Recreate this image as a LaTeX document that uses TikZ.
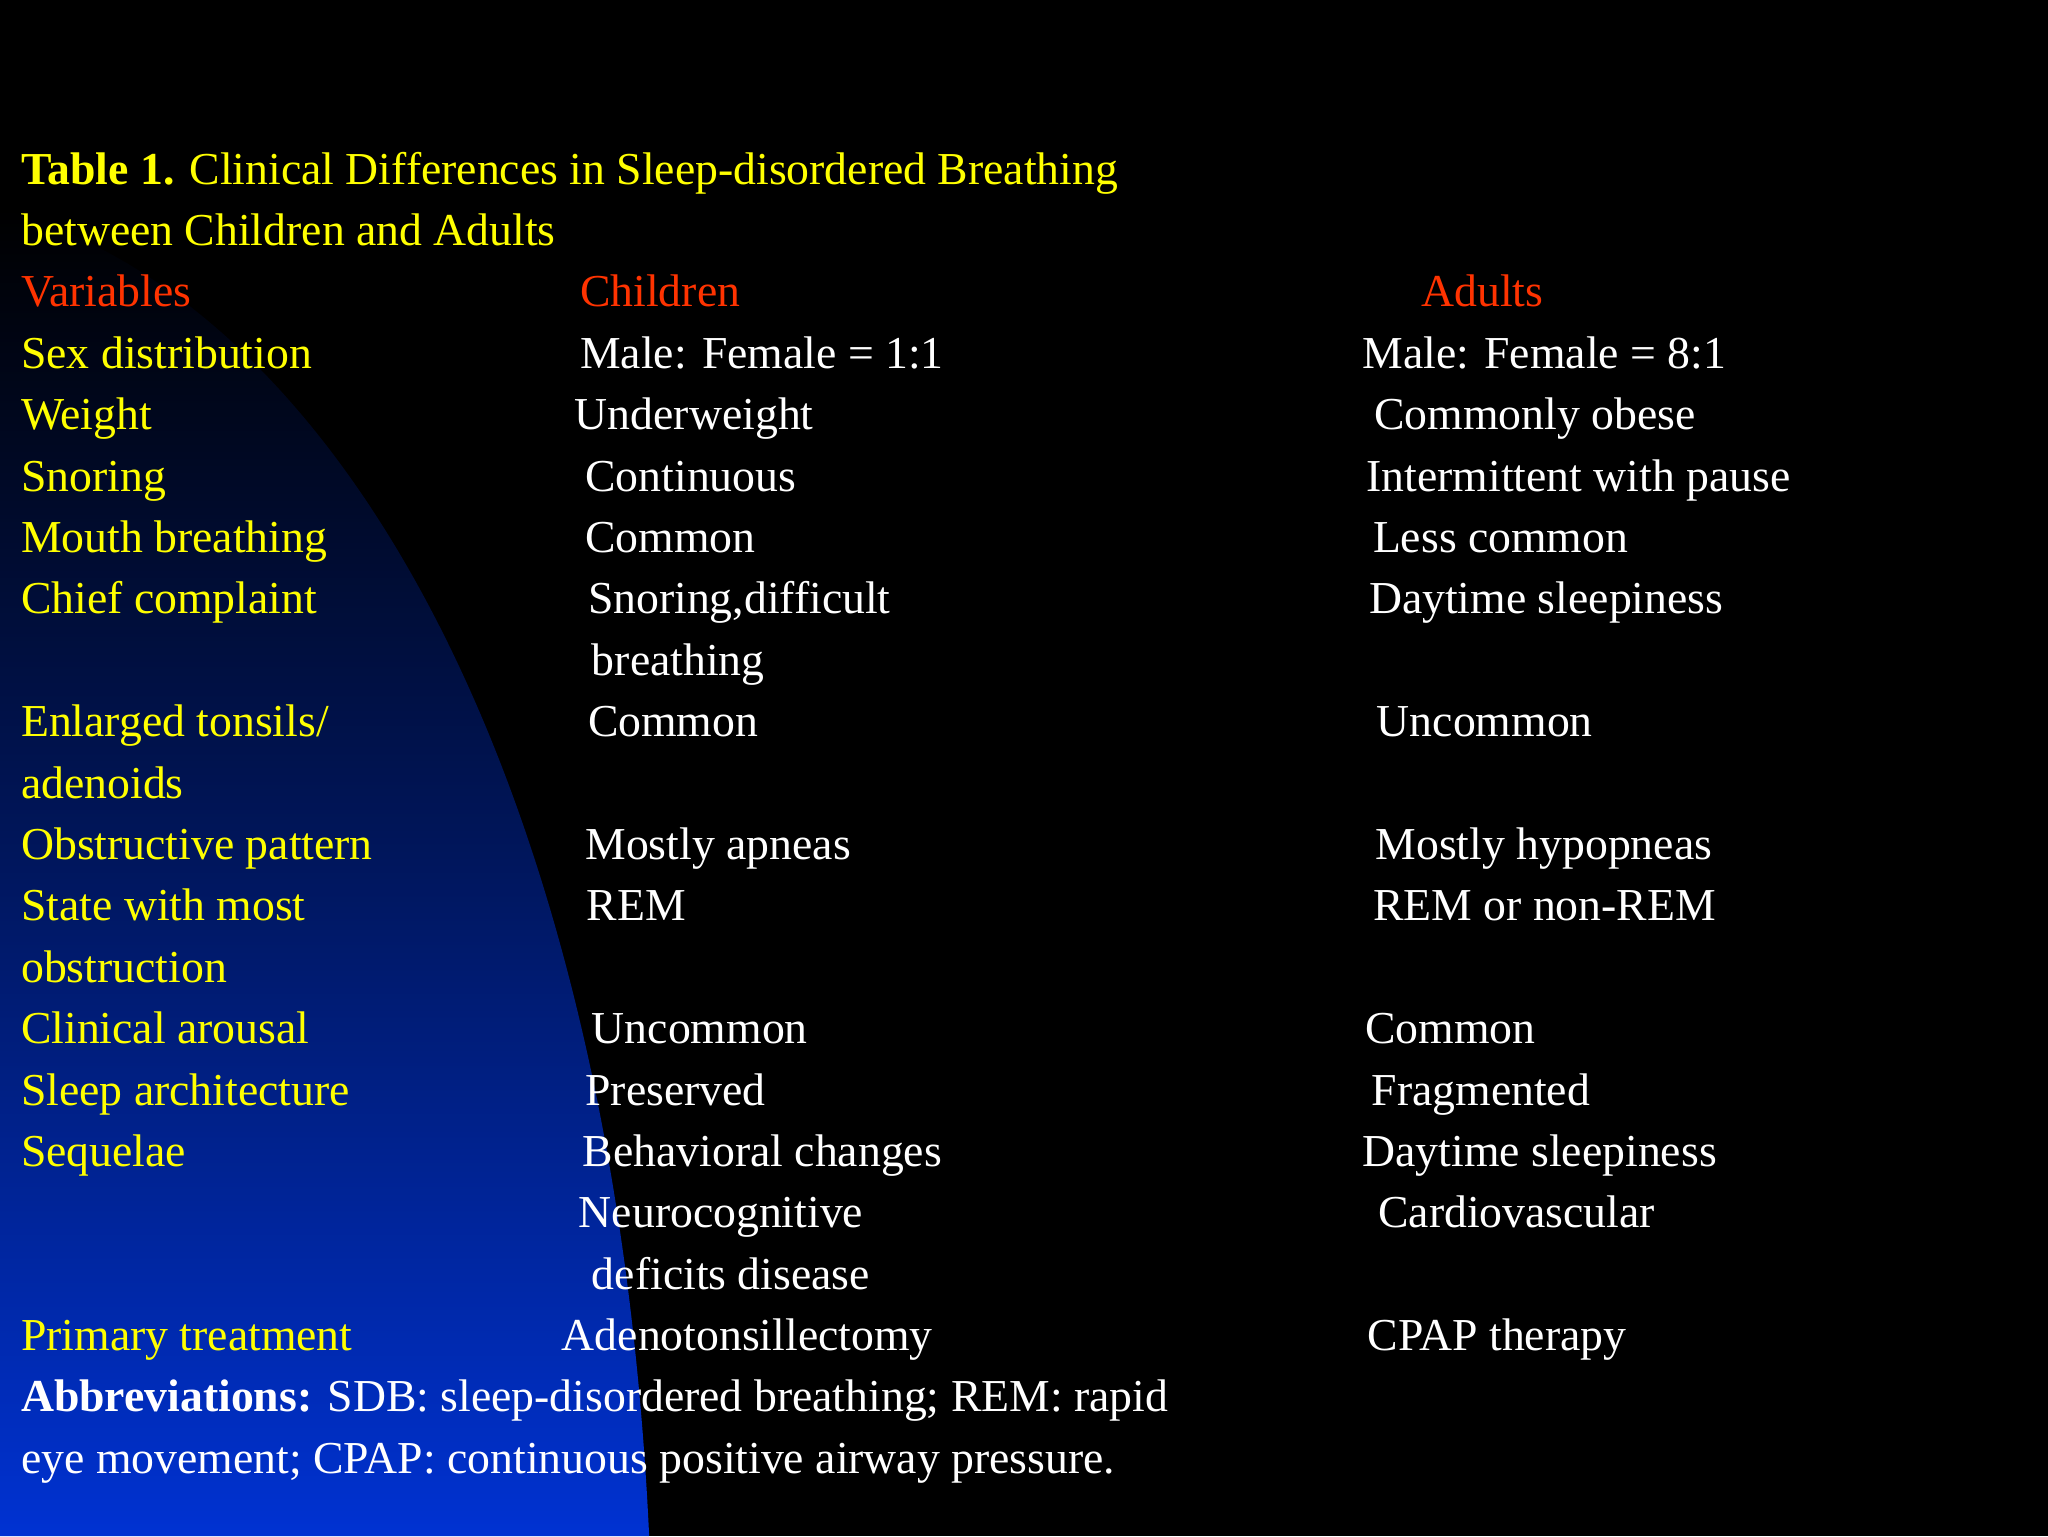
\documentclass[tikz,border=0pt]{standalone}
\usepackage{fontspec}
\setmainfont{Liberation Serif}
\definecolor{ylw}{RGB}{255,255,0}
\definecolor{redt}{RGB}{255,51,0}
\definecolor{bluebg}{RGB}{0,50,210}
\begin{document}
\begin{tikzpicture}[x=1pt,y=-1pt,
  txt/.style={anchor=base west,inner sep=0pt,font=\fontsize{35}{47}\selectfont},
  yl/.style={txt,text=ylw}, rd/.style={txt,text=redt}, wt/.style={txt,text=white}]
\fill[black] (0,0) rectangle (1568,1176);
\useasboundingbox (0,0) rectangle (1568,1176);
\shade[top color=black,bottom color=bluebg,middle color=bluebg!45!black]
  (0,160) .. controls (260,230) and (470,600) .. (497,1176) -- (0,1176) -- cycle;
\node[yl] (t1) at (16,141) {\textbf{Table 1.} Clinical Differences in Sleep-disordered Breathing};
\node[yl] (t2) at (16,188) {between Children and Adults};
\node[rd] (h1) at (16,235) {Variables};
\node[rd] (h2) at (444,235) {Children};
\node[rd] (h3) at (1088,235) {Adults};
\node[yl] (v1) at (16,282) {Sex distribution};
\node[wt] (c1) at (444,282) {Male: Female = 1:1};
\node[wt] (a1) at (1043,282) {Male: Female = 8:1};
\node[yl] (v2) at (16,329) {Weight};
\node[wt] (c2) at (440,329) {Underweight};
\node[wt] (a2) at (1052,329) {Commonly obese};
\node[yl] (v3) at (16,376) {Snoring};
\node[wt] (c3) at (448,376) {Continuous};
\node[wt] (a3) at (1046,376) {Intermittent with pause};
\node[yl] (v4) at (16,423) {Mouth breathing};
\node[wt] (c4) at (448,423) {Common};
\node[wt] (a4) at (1051,423) {Less common};
\node[yl] (v5) at (16,470) {Chief complaint};
\node[wt] (c5) at (450,470) {Snoring,difficult};
\node[wt] (c5b) at (453,517) {breathing};
\node[wt] (a5) at (1048,470) {Daytime sleepiness};
\node[yl] (v6) at (16,564) {Enlarged tonsils/};
\node[yl] (v6b) at (16,611) {adenoids};
\node[wt] (c6) at (450,564) {Common};
\node[wt] (a6) at (1054,564) {Uncommon};
\node[yl] (v7) at (16,658) {Obstructive pattern};
\node[wt] (c7) at (448,658) {Mostly apneas};
\node[wt] (a7) at (1053,658) {Mostly hypopneas};
\node[yl] (v8) at (16,705) {State with most};
\node[yl] (v8b) at (16,752) {obstruction};
\node[wt] (c8) at (449,705) {REM};
\node[wt] (a8) at (1051,705) {REM or non-REM};
\node[yl] (v9) at (16,799) {Clinical arousal};
\node[wt] (c9) at (453,799) {Uncommon};
\node[wt] (a9) at (1045,799) {Common};
\node[yl] (v10) at (16,846) {Sleep architecture};
\node[wt] (c10) at (448,846) {Preserved};
\node[wt] (a10) at (1050,846) {Fragmented};
\node[yl] (v11) at (16,893) {Sequelae};
\node[wt] (c11) at (446,893) {Behavioral changes};
\node[wt] (c11b) at (443,940) {Neurocognitive};
\node[wt] (c11c) at (453,987) {deficits disease};
\node[wt] (a11) at (1043,893) {Daytime sleepiness};
\node[wt] (a11b) at (1055,940) {Cardiovascular};
\node[yl] (v12) at (16,1034) {Primary treatment};
\node[wt] (c12) at (430,1034) {Adenotonsillectomy};
\node[wt] (a12) at (1047,1034) {CPAP therapy};
\node[wt] (ab1) at (16,1081) {\textbf{Abbreviations:} SDB: sleep-disordered breathing; REM: rapid};
\node[wt] (ab2) at (16,1128) {eye movement; CPAP: continuous positive airway pressure.};
\end{tikzpicture}
\end{document}
